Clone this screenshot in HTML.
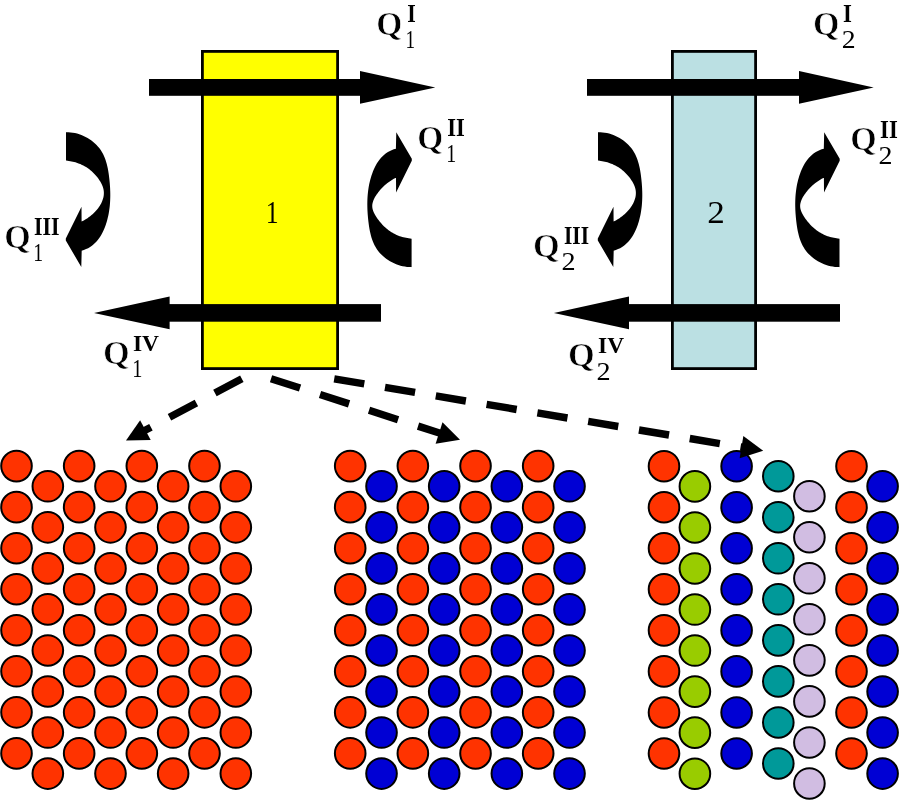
<!DOCTYPE html>
<html><head><meta charset="utf-8"><title>Diagram</title>
<style>html,body{margin:0;padding:0;background:#fff;}svg{display:block;}</style></head>
<body>
<svg width="900" height="800" viewBox="0 0 900 800">
<defs><path id="ca" d="M66,132 L66.25,132.30 L68.40,132.28 L70.57,132.41 L72.75,132.68 L74.94,133.08 L77.12,133.61 L79.28,134.27 L81.42,135.04 L83.52,135.94 L85.58,136.94 L87.59,138.05 L89.54,139.25 L91.42,140.56 L93.22,141.95 L94.94,143.43 L96.55,144.99 L98.06,146.63 L99.45,148.34 L100.72,150.11 L101.88,151.95 L102.93,153.85 L103.87,155.79 L104.72,157.79 L105.48,159.83 L106.16,161.92 L106.76,164.03 L107.29,166.18 L107.76,168.36 L108.17,170.56 L108.54,172.77 L108.86,175.01 L109.14,177.25 L109.40,179.49 L109.63,181.74 L109.82,183.99 L109.99,186.24 L110.12,188.50 L110.21,190.75 L110.27,193.00 L110.29,195.25 L110.26,197.49 L110.19,199.73 L110.08,201.96 L109.92,204.19 L109.72,206.41 L109.46,208.62 L109.15,210.83 L108.79,213.02 L108.37,215.20 L107.89,217.37 L107.35,219.53 L106.76,221.67 L106.10,223.79 L105.37,225.91 L104.58,227.99 L103.71,230.06 L102.77,232.08 L101.75,234.05 L100.64,235.97 L99.44,237.81 L98.15,239.59 L96.75,241.28 L95.26,242.87 L93.65,244.37 L91.94,245.75 L90.10,247.01 L88.15,248.14 L86.07,249.12 L83.85,249.97 L81.51,250.65 L81.7,250.6 L81.3,267 L65.8,240.5 L65.8,238.5 L81.5,206.8 L81.6,221.8 L81.52,221.61 L82.65,221.05 L83.79,220.45 L84.92,219.80 L86.05,219.11 L87.17,218.38 L88.28,217.62 L89.38,216.81 L90.46,215.97 L91.52,215.10 L92.56,214.19 L93.57,213.25 L94.55,212.28 L95.50,211.28 L96.42,210.26 L97.30,209.21 L98.14,208.14 L98.93,207.04 L99.67,205.92 L100.37,204.79 L101.01,203.63 L101.60,202.46 L102.12,201.28 L102.58,200.08 L102.98,198.87 L103.31,197.65 L103.57,196.42 L103.75,195.18 L103.85,193.94 L103.87,192.69 L103.81,191.44 L103.66,190.19 L103.43,188.93 L103.09,187.68 L102.68,186.44 L102.18,185.20 L101.61,183.97 L100.98,182.76 L100.29,181.57 L99.55,180.39 L98.78,179.24 L97.97,178.11 L97.12,177.02 L96.24,175.95 L95.33,174.91 L94.40,173.90 L93.43,172.92 L92.45,171.98 L91.44,171.07 L90.40,170.20 L89.35,169.37 L88.29,168.57 L87.20,167.82 L86.10,167.11 L84.98,166.43 L83.85,165.80 L82.70,165.20 L81.53,164.64 L80.35,164.11 L79.15,163.63 L77.93,163.17 L76.69,162.76 L75.43,162.37 L74.16,162.03 L72.87,161.71 L71.56,161.43 L70.23,161.18 L68.88,160.96 L67.51,160.78 L66.12,160.62 L66,160.5 Z" fill="#000"/><path id="cb" d="M66,132 L66.25,132.30 L68.40,132.28 L70.57,132.41 L72.75,132.68 L74.94,133.08 L77.12,133.61 L79.28,134.27 L81.42,135.04 L83.52,135.94 L85.58,136.94 L87.59,138.05 L89.54,139.25 L91.42,140.56 L93.22,141.95 L94.94,143.43 L96.55,144.99 L98.06,146.63 L99.45,148.34 L100.72,150.11 L101.88,151.95 L102.93,153.85 L103.87,155.79 L104.72,157.79 L105.48,159.83 L106.16,161.92 L106.76,164.03 L107.29,166.18 L107.76,168.36 L108.17,170.56 L108.54,172.77 L108.86,175.01 L109.14,177.25 L109.40,179.49 L109.63,181.74 L109.82,183.99 L109.99,186.24 L110.12,188.50 L110.21,190.75 L110.27,193.00 L110.29,195.25 L110.26,197.49 L110.19,199.73 L110.08,201.96 L109.92,204.19 L109.72,206.41 L109.46,208.62 L109.15,210.83 L108.79,213.02 L108.37,215.20 L107.89,217.37 L107.35,219.53 L106.76,221.67 L106.10,223.79 L105.37,225.91 L104.58,227.99 L103.71,230.06 L102.77,232.08 L101.75,234.05 L100.64,235.97 L99.44,237.81 L98.15,239.59 L96.75,241.28 L95.26,242.87 L93.65,244.37 L91.94,245.75 L90.10,247.01 L88.15,248.14 L86.07,249.12 L83.85,249.97 L81.51,250.65 L81.7,250.6 L81.3,267 L65.8,240.5 L65.8,238.5 L81.5,206.8 L81.6,221.8 L81.53,221.61 L82.66,221.05 L83.79,220.45 L84.93,219.80 L86.06,219.11 L87.18,218.38 L88.30,217.62 L89.40,216.81 L90.49,215.97 L91.57,215.10 L92.62,214.19 L93.65,213.25 L94.66,212.28 L95.65,211.28 L96.61,210.26 L97.55,209.21 L98.45,208.14 L99.33,207.04 L100.17,205.92 L100.97,204.79 L101.74,203.63 L102.45,202.46 L103.11,201.28 L103.70,200.08 L104.22,198.87 L104.65,197.65 L104.99,196.42 L105.22,195.18 L105.35,193.94 L105.35,192.69 L105.24,191.44 L105.01,190.19 L104.66,188.93 L104.20,187.68 L103.65,186.44 L103.01,185.20 L102.31,183.97 L101.55,182.76 L100.75,181.57 L99.92,180.39 L99.06,179.24 L98.19,178.11 L97.29,177.02 L96.37,175.95 L95.43,174.91 L94.47,173.90 L93.48,172.92 L92.48,171.98 L91.46,171.07 L90.42,170.20 L89.37,169.37 L88.29,168.57 L87.21,167.82 L86.11,167.11 L84.99,166.43 L83.85,165.80 L82.70,165.20 L81.54,164.64 L80.35,164.11 L79.15,163.63 L77.93,163.17 L76.69,162.76 L75.43,162.37 L74.16,162.03 L72.87,161.71 L71.56,161.43 L70.23,161.18 L68.88,160.96 L67.51,160.78 L66.12,160.62 L66,160.5 Z" fill="#000"/></defs>
<rect x="202.4" y="51.4" width="135.2" height="317.2" fill="#ffff00" stroke="#000" stroke-width="2.8"/>
<rect x="672.4" y="51.4" width="83.2" height="317.2" fill="#bbe0e3" stroke="#000" stroke-width="2.8"/>
<rect x="149" y="79.00" width="212" height="16.8" fill="#000"/><polygon points="360,71.00 435.3,87.40 360,103.80" fill="#000"/>
<rect x="587" y="79.00" width="213" height="16.8" fill="#000"/><polygon points="799,71.00 873.7,87.40 799,103.80" fill="#000"/>
<rect x="168.6" y="304.10" width="212.4" height="17.6" fill="#000"/><polygon points="169.6,296.50 94,312.90 169.6,329.30" fill="#000"/>
<rect x="628" y="304.10" width="212" height="17.6" fill="#000"/><polygon points="629,296.50 553.9,312.90 629,329.30" fill="#000"/>
<use href="#ca"/>
<use href="#ca" transform="translate(532,0)"/>
<use href="#cb" transform="translate(477.6,399.3) scale(-1,-1)"/>
<use href="#cb" transform="translate(905.5,399.3) scale(-1,-1)"/>
<g stroke="#000" stroke-width="2">
<circle cx="16.50" cy="466.10" r="15.3" fill="#ff3300"/>
<circle cx="16.50" cy="507.14" r="15.3" fill="#ff3300"/>
<circle cx="16.50" cy="548.18" r="15.3" fill="#ff3300"/>
<circle cx="16.50" cy="589.22" r="15.3" fill="#ff3300"/>
<circle cx="16.50" cy="630.26" r="15.3" fill="#ff3300"/>
<circle cx="16.50" cy="671.30" r="15.3" fill="#ff3300"/>
<circle cx="16.50" cy="712.34" r="15.3" fill="#ff3300"/>
<circle cx="16.50" cy="753.38" r="15.3" fill="#ff3300"/>
<circle cx="47.83" cy="486.30" r="15.3" fill="#ff3300"/>
<circle cx="47.83" cy="527.34" r="15.3" fill="#ff3300"/>
<circle cx="47.83" cy="568.38" r="15.3" fill="#ff3300"/>
<circle cx="47.83" cy="609.42" r="15.3" fill="#ff3300"/>
<circle cx="47.83" cy="650.46" r="15.3" fill="#ff3300"/>
<circle cx="47.83" cy="691.50" r="15.3" fill="#ff3300"/>
<circle cx="47.83" cy="732.54" r="15.3" fill="#ff3300"/>
<circle cx="47.83" cy="773.58" r="15.3" fill="#ff3300"/>
<circle cx="79.16" cy="466.10" r="15.3" fill="#ff3300"/>
<circle cx="79.16" cy="507.14" r="15.3" fill="#ff3300"/>
<circle cx="79.16" cy="548.18" r="15.3" fill="#ff3300"/>
<circle cx="79.16" cy="589.22" r="15.3" fill="#ff3300"/>
<circle cx="79.16" cy="630.26" r="15.3" fill="#ff3300"/>
<circle cx="79.16" cy="671.30" r="15.3" fill="#ff3300"/>
<circle cx="79.16" cy="712.34" r="15.3" fill="#ff3300"/>
<circle cx="79.16" cy="753.38" r="15.3" fill="#ff3300"/>
<circle cx="110.49" cy="486.30" r="15.3" fill="#ff3300"/>
<circle cx="110.49" cy="527.34" r="15.3" fill="#ff3300"/>
<circle cx="110.49" cy="568.38" r="15.3" fill="#ff3300"/>
<circle cx="110.49" cy="609.42" r="15.3" fill="#ff3300"/>
<circle cx="110.49" cy="650.46" r="15.3" fill="#ff3300"/>
<circle cx="110.49" cy="691.50" r="15.3" fill="#ff3300"/>
<circle cx="110.49" cy="732.54" r="15.3" fill="#ff3300"/>
<circle cx="110.49" cy="773.58" r="15.3" fill="#ff3300"/>
<circle cx="141.82" cy="466.10" r="15.3" fill="#ff3300"/>
<circle cx="141.82" cy="507.14" r="15.3" fill="#ff3300"/>
<circle cx="141.82" cy="548.18" r="15.3" fill="#ff3300"/>
<circle cx="141.82" cy="589.22" r="15.3" fill="#ff3300"/>
<circle cx="141.82" cy="630.26" r="15.3" fill="#ff3300"/>
<circle cx="141.82" cy="671.30" r="15.3" fill="#ff3300"/>
<circle cx="141.82" cy="712.34" r="15.3" fill="#ff3300"/>
<circle cx="141.82" cy="753.38" r="15.3" fill="#ff3300"/>
<circle cx="173.15" cy="486.30" r="15.3" fill="#ff3300"/>
<circle cx="173.15" cy="527.34" r="15.3" fill="#ff3300"/>
<circle cx="173.15" cy="568.38" r="15.3" fill="#ff3300"/>
<circle cx="173.15" cy="609.42" r="15.3" fill="#ff3300"/>
<circle cx="173.15" cy="650.46" r="15.3" fill="#ff3300"/>
<circle cx="173.15" cy="691.50" r="15.3" fill="#ff3300"/>
<circle cx="173.15" cy="732.54" r="15.3" fill="#ff3300"/>
<circle cx="173.15" cy="773.58" r="15.3" fill="#ff3300"/>
<circle cx="204.48" cy="466.10" r="15.3" fill="#ff3300"/>
<circle cx="204.48" cy="507.14" r="15.3" fill="#ff3300"/>
<circle cx="204.48" cy="548.18" r="15.3" fill="#ff3300"/>
<circle cx="204.48" cy="589.22" r="15.3" fill="#ff3300"/>
<circle cx="204.48" cy="630.26" r="15.3" fill="#ff3300"/>
<circle cx="204.48" cy="671.30" r="15.3" fill="#ff3300"/>
<circle cx="204.48" cy="712.34" r="15.3" fill="#ff3300"/>
<circle cx="204.48" cy="753.38" r="15.3" fill="#ff3300"/>
<circle cx="235.81" cy="486.30" r="15.3" fill="#ff3300"/>
<circle cx="235.81" cy="527.34" r="15.3" fill="#ff3300"/>
<circle cx="235.81" cy="568.38" r="15.3" fill="#ff3300"/>
<circle cx="235.81" cy="609.42" r="15.3" fill="#ff3300"/>
<circle cx="235.81" cy="650.46" r="15.3" fill="#ff3300"/>
<circle cx="235.81" cy="691.50" r="15.3" fill="#ff3300"/>
<circle cx="235.81" cy="732.54" r="15.3" fill="#ff3300"/>
<circle cx="235.81" cy="773.58" r="15.3" fill="#ff3300"/>
<circle cx="350.20" cy="466.10" r="15.3" fill="#ff3300"/>
<circle cx="350.20" cy="507.14" r="15.3" fill="#ff3300"/>
<circle cx="350.20" cy="548.18" r="15.3" fill="#ff3300"/>
<circle cx="350.20" cy="589.22" r="15.3" fill="#ff3300"/>
<circle cx="350.20" cy="630.26" r="15.3" fill="#ff3300"/>
<circle cx="350.20" cy="671.30" r="15.3" fill="#ff3300"/>
<circle cx="350.20" cy="712.34" r="15.3" fill="#ff3300"/>
<circle cx="350.20" cy="753.38" r="15.3" fill="#ff3300"/>
<circle cx="381.53" cy="486.30" r="15.3" fill="#0000d4"/>
<circle cx="381.53" cy="527.34" r="15.3" fill="#0000d4"/>
<circle cx="381.53" cy="568.38" r="15.3" fill="#0000d4"/>
<circle cx="381.53" cy="609.42" r="15.3" fill="#0000d4"/>
<circle cx="381.53" cy="650.46" r="15.3" fill="#0000d4"/>
<circle cx="381.53" cy="691.50" r="15.3" fill="#0000d4"/>
<circle cx="381.53" cy="732.54" r="15.3" fill="#0000d4"/>
<circle cx="381.53" cy="773.58" r="15.3" fill="#0000d4"/>
<circle cx="412.86" cy="466.10" r="15.3" fill="#ff3300"/>
<circle cx="412.86" cy="507.14" r="15.3" fill="#ff3300"/>
<circle cx="412.86" cy="548.18" r="15.3" fill="#ff3300"/>
<circle cx="412.86" cy="589.22" r="15.3" fill="#ff3300"/>
<circle cx="412.86" cy="630.26" r="15.3" fill="#ff3300"/>
<circle cx="412.86" cy="671.30" r="15.3" fill="#ff3300"/>
<circle cx="412.86" cy="712.34" r="15.3" fill="#ff3300"/>
<circle cx="412.86" cy="753.38" r="15.3" fill="#ff3300"/>
<circle cx="444.19" cy="486.30" r="15.3" fill="#0000d4"/>
<circle cx="444.19" cy="527.34" r="15.3" fill="#0000d4"/>
<circle cx="444.19" cy="568.38" r="15.3" fill="#0000d4"/>
<circle cx="444.19" cy="609.42" r="15.3" fill="#0000d4"/>
<circle cx="444.19" cy="650.46" r="15.3" fill="#0000d4"/>
<circle cx="444.19" cy="691.50" r="15.3" fill="#0000d4"/>
<circle cx="444.19" cy="732.54" r="15.3" fill="#0000d4"/>
<circle cx="444.19" cy="773.58" r="15.3" fill="#0000d4"/>
<circle cx="475.52" cy="466.10" r="15.3" fill="#ff3300"/>
<circle cx="475.52" cy="507.14" r="15.3" fill="#ff3300"/>
<circle cx="475.52" cy="548.18" r="15.3" fill="#ff3300"/>
<circle cx="475.52" cy="589.22" r="15.3" fill="#ff3300"/>
<circle cx="475.52" cy="630.26" r="15.3" fill="#ff3300"/>
<circle cx="475.52" cy="671.30" r="15.3" fill="#ff3300"/>
<circle cx="475.52" cy="712.34" r="15.3" fill="#ff3300"/>
<circle cx="475.52" cy="753.38" r="15.3" fill="#ff3300"/>
<circle cx="506.85" cy="486.30" r="15.3" fill="#0000d4"/>
<circle cx="506.85" cy="527.34" r="15.3" fill="#0000d4"/>
<circle cx="506.85" cy="568.38" r="15.3" fill="#0000d4"/>
<circle cx="506.85" cy="609.42" r="15.3" fill="#0000d4"/>
<circle cx="506.85" cy="650.46" r="15.3" fill="#0000d4"/>
<circle cx="506.85" cy="691.50" r="15.3" fill="#0000d4"/>
<circle cx="506.85" cy="732.54" r="15.3" fill="#0000d4"/>
<circle cx="506.85" cy="773.58" r="15.3" fill="#0000d4"/>
<circle cx="538.18" cy="466.10" r="15.3" fill="#ff3300"/>
<circle cx="538.18" cy="507.14" r="15.3" fill="#ff3300"/>
<circle cx="538.18" cy="548.18" r="15.3" fill="#ff3300"/>
<circle cx="538.18" cy="589.22" r="15.3" fill="#ff3300"/>
<circle cx="538.18" cy="630.26" r="15.3" fill="#ff3300"/>
<circle cx="538.18" cy="671.30" r="15.3" fill="#ff3300"/>
<circle cx="538.18" cy="712.34" r="15.3" fill="#ff3300"/>
<circle cx="538.18" cy="753.38" r="15.3" fill="#ff3300"/>
<circle cx="569.51" cy="486.30" r="15.3" fill="#0000d4"/>
<circle cx="569.51" cy="527.34" r="15.3" fill="#0000d4"/>
<circle cx="569.51" cy="568.38" r="15.3" fill="#0000d4"/>
<circle cx="569.51" cy="609.42" r="15.3" fill="#0000d4"/>
<circle cx="569.51" cy="650.46" r="15.3" fill="#0000d4"/>
<circle cx="569.51" cy="691.50" r="15.3" fill="#0000d4"/>
<circle cx="569.51" cy="732.54" r="15.3" fill="#0000d4"/>
<circle cx="569.51" cy="773.58" r="15.3" fill="#0000d4"/>
<circle cx="664.00" cy="466.20" r="15.3" fill="#ff3300"/>
<circle cx="664.00" cy="507.24" r="15.3" fill="#ff3300"/>
<circle cx="664.00" cy="548.28" r="15.3" fill="#ff3300"/>
<circle cx="664.00" cy="589.32" r="15.3" fill="#ff3300"/>
<circle cx="664.00" cy="630.36" r="15.3" fill="#ff3300"/>
<circle cx="664.00" cy="671.40" r="15.3" fill="#ff3300"/>
<circle cx="664.00" cy="712.44" r="15.3" fill="#ff3300"/>
<circle cx="664.00" cy="753.48" r="15.3" fill="#ff3300"/>
<circle cx="694.90" cy="486.40" r="15.3" fill="#99cc00"/>
<circle cx="694.90" cy="527.44" r="15.3" fill="#99cc00"/>
<circle cx="694.90" cy="568.48" r="15.3" fill="#99cc00"/>
<circle cx="694.90" cy="609.52" r="15.3" fill="#99cc00"/>
<circle cx="694.90" cy="650.56" r="15.3" fill="#99cc00"/>
<circle cx="694.90" cy="691.60" r="15.3" fill="#99cc00"/>
<circle cx="694.90" cy="732.64" r="15.3" fill="#99cc00"/>
<circle cx="694.90" cy="773.68" r="15.3" fill="#99cc00"/>
<circle cx="736.60" cy="466.20" r="15.3" fill="#0000d4"/>
<circle cx="736.60" cy="507.24" r="15.3" fill="#0000d4"/>
<circle cx="736.60" cy="548.28" r="15.3" fill="#0000d4"/>
<circle cx="736.60" cy="589.32" r="15.3" fill="#0000d4"/>
<circle cx="736.60" cy="630.36" r="15.3" fill="#0000d4"/>
<circle cx="736.60" cy="671.40" r="15.3" fill="#0000d4"/>
<circle cx="736.60" cy="712.44" r="15.3" fill="#0000d4"/>
<circle cx="736.60" cy="753.48" r="15.3" fill="#0000d4"/>
<circle cx="778.30" cy="476.20" r="15.3" fill="#009999"/>
<circle cx="778.30" cy="517.24" r="15.3" fill="#009999"/>
<circle cx="778.30" cy="558.28" r="15.3" fill="#009999"/>
<circle cx="778.30" cy="599.32" r="15.3" fill="#009999"/>
<circle cx="778.30" cy="640.36" r="15.3" fill="#009999"/>
<circle cx="778.30" cy="681.40" r="15.3" fill="#009999"/>
<circle cx="778.30" cy="722.44" r="15.3" fill="#009999"/>
<circle cx="778.30" cy="763.48" r="15.3" fill="#009999"/>
<circle cx="809.40" cy="496.20" r="15.3" fill="#d1bde2"/>
<circle cx="809.40" cy="537.24" r="15.3" fill="#d1bde2"/>
<circle cx="809.40" cy="578.28" r="15.3" fill="#d1bde2"/>
<circle cx="809.40" cy="619.32" r="15.3" fill="#d1bde2"/>
<circle cx="809.40" cy="660.36" r="15.3" fill="#d1bde2"/>
<circle cx="809.40" cy="701.40" r="15.3" fill="#d1bde2"/>
<circle cx="809.40" cy="742.44" r="15.3" fill="#d1bde2"/>
<circle cx="809.40" cy="783.48" r="15.3" fill="#d1bde2"/>
<circle cx="851.50" cy="466.20" r="15.3" fill="#ff3300"/>
<circle cx="851.50" cy="507.24" r="15.3" fill="#ff3300"/>
<circle cx="851.50" cy="548.28" r="15.3" fill="#ff3300"/>
<circle cx="851.50" cy="589.32" r="15.3" fill="#ff3300"/>
<circle cx="851.50" cy="630.36" r="15.3" fill="#ff3300"/>
<circle cx="851.50" cy="671.40" r="15.3" fill="#ff3300"/>
<circle cx="851.50" cy="712.44" r="15.3" fill="#ff3300"/>
<circle cx="851.50" cy="753.48" r="15.3" fill="#ff3300"/>
<circle cx="882.60" cy="486.30" r="15.3" fill="#0000d4"/>
<circle cx="882.60" cy="527.34" r="15.3" fill="#0000d4"/>
<circle cx="882.60" cy="568.38" r="15.3" fill="#0000d4"/>
<circle cx="882.60" cy="609.42" r="15.3" fill="#0000d4"/>
<circle cx="882.60" cy="650.46" r="15.3" fill="#0000d4"/>
<circle cx="882.60" cy="691.50" r="15.3" fill="#0000d4"/>
<circle cx="882.60" cy="732.54" r="15.3" fill="#0000d4"/>
<circle cx="882.60" cy="773.58" r="15.3" fill="#0000d4"/>
</g>
<line x1="241.84" y1="378.76" x2="143.65" y2="431.09" stroke="#000" stroke-width="7.4" stroke-dasharray="30.5 21"/><polygon points="126.00,440.50 140.12,420.23 150.71,440.08" fill="#000"/>
<line x1="271.02" y1="378.65" x2="440.97" y2="433.55" stroke="#000" stroke-width="7.4" stroke-dasharray="30.5 21"/><polygon points="460.00,439.70 435.61,443.64 442.52,422.23" fill="#000"/>
<line x1="334.21" y1="378.92" x2="743.47" y2="447.49" stroke="#000" stroke-width="7.4" stroke-dasharray="30.5 21"/><polygon points="763.20,450.80 739.64,458.26 743.36,436.07" fill="#000"/>
<g font-family="Liberation Serif" fill="#000" style="will-change:transform">
<text transform="translate(376.32,35.33) scale(1.000,1)" font-size="33.58" font-weight="bold" stroke="#fff" stroke-width="0.7">Q</text>
<text transform="translate(407.23,21.90) scale(0.894,1)" font-size="24.46" font-weight="bold">I</text>
<text transform="translate(405.58,47.90) scale(0.742,1)" font-size="25.80">1</text>
<text transform="translate(417.33,149.33) scale(0.996,1)" font-size="33.58" font-weight="bold" stroke="#fff" stroke-width="0.7">Q</text>
<text transform="translate(447.21,135.80) scale(0.927,1)" font-size="24.31" font-weight="bold">II</text>
<text transform="translate(446.30,161.70) scale(0.784,1)" font-size="25.50">1</text>
<text transform="translate(4.30,248.25) scale(1.017,1)" font-size="33.45" font-weight="bold" stroke="#fff" stroke-width="0.7">Q</text>
<text transform="translate(34.04,234.90) scale(0.886,1)" font-size="24.62" font-weight="bold">III</text>
<text transform="translate(33.33,261.10) scale(0.764,1)" font-size="25.80">1</text>
<text transform="translate(103.08,363.74) scale(1.044,1)" font-size="32.85" font-weight="bold" stroke="#fff" stroke-width="0.7">Q</text>
<text transform="translate(132.98,351.35) scale(1.001,1)" font-size="23.46" font-weight="bold">IV</text>
<text transform="translate(132.27,377.00) scale(0.800,1)" font-size="25.34">1</text>
<text transform="translate(813.10,35.05) scale(1.017,1)" font-size="33.45" font-weight="bold" stroke="#fff" stroke-width="0.7">Q</text>
<text transform="translate(843.10,21.80) scale(0.944,1)" font-size="24.15" font-weight="bold">I</text>
<text transform="translate(841.65,47.60) scale(1.084,1)" font-size="25.61">2</text>
<text transform="translate(850.30,150.09) scale(1.024,1)" font-size="33.21" font-weight="bold" stroke="#fff" stroke-width="0.7">Q</text>
<text transform="translate(880.11,138.10) scale(0.915,1)" font-size="24.77" font-weight="bold">II</text>
<text transform="translate(878.54,164.00) scale(1.074,1)" font-size="26.06">2</text>
<text transform="translate(533.08,257.25) scale(1.025,1)" font-size="33.45" font-weight="bold" stroke="#fff" stroke-width="0.7">Q</text>
<text transform="translate(564.05,243.90) scale(0.868,1)" font-size="24.62" font-weight="bold">III</text>
<text transform="translate(561.53,269.70) scale(1.130,1)" font-size="25.00">2</text>
<text transform="translate(568.08,365.97) scale(1.029,1)" font-size="33.33" font-weight="bold" stroke="#fff" stroke-width="0.7">Q</text>
<text transform="translate(598.08,353.44) scale(0.984,1)" font-size="23.76" font-weight="bold">IV</text>
<text transform="translate(596.53,379.80) scale(1.151,1)" font-size="24.55">2</text>
<text transform="translate(265.69,222.80) scale(0.806,1)" font-size="31.91">1</text>
<text transform="translate(707.17,222.80) scale(1.109,1)" font-size="31.67">2</text>
</g>
</svg>
</body></html>
